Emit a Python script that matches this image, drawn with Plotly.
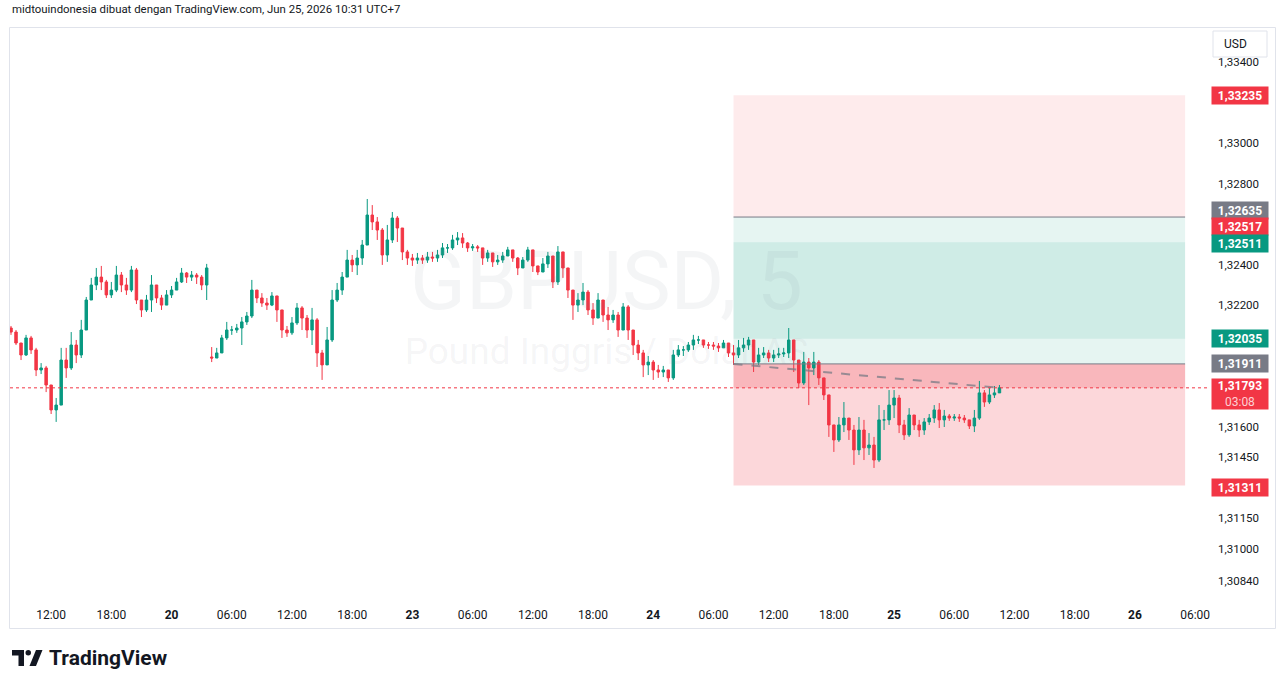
import pandas as pd
import plotly.graph_objects as go

# ---------------- data (30-min bars) ----------------
fri_start = "2026-06-19 08:00"
fri_first_open = 1.32088
fri_close = [1.32068, 1.32014, 1.31955, 1.32039, 1.31980, 1.31881, 1.31891, 1.31807, 1.31684, 1.31708,
             1.31930, 1.31891, 1.32004, 1.31955, 1.32078, 1.32226, 1.32300, 1.32339, 1.32315, 1.32251,
             1.32275, 1.32349, 1.32300, 1.32275, 1.32374, 1.32226, 1.32177, 1.32226, 1.32300, 1.32236,
             1.32201, 1.32251, 1.32275, 1.32315, 1.32359, 1.32339, 1.32349, 1.32339, 1.32300, 1.32384]
fri_high = [1.32098, 1.32078, 1.32014, 1.32054, 1.32049, 1.31990, 1.31915, 1.31901, 1.31807, 1.31743,
            1.31990, 1.31990, 1.32068, 1.32029, 1.32128, 1.32241, 1.32335, 1.32384, 1.32394, 1.32325,
            1.32315, 1.32394, 1.32364, 1.32335, 1.32394, 1.32384, 1.32226, 1.32251, 1.32349, 1.32300,
            1.32251, 1.32275, 1.32295, 1.32335, 1.32384, 1.32364, 1.32369, 1.32359, 1.32349, 1.32404]
fri_low = [1.32054, 1.32004, 1.31930, 1.31950, 1.31960, 1.31851, 1.31861, 1.31772, 1.31664, 1.31625,
           1.31708, 1.31842, 1.31881, 1.31915, 1.31940, 1.32078, 1.32226, 1.32275, 1.32275, 1.32236,
           1.32236, 1.32265, 1.32265, 1.32251, 1.32265, 1.32206, 1.32142, 1.32167, 1.32167, 1.32211,
           1.32177, 1.32216, 1.32236, 1.32275, 1.32310, 1.32310, 1.32320, 1.32305, 1.32275, 1.32226]

mon_start = "2026-06-22 04:00"
mon_first_open = 1.31945
mon_close = [1.31940, 1.31965, 1.32039, 1.32078, 1.32078, 1.32088, 1.32118, 1.32147, 1.32275, 1.32236,
             1.32211, 1.32201, 1.32246, 1.32177, 1.32078, 1.32064, 1.32113, 1.32187, 1.32137, 1.32078,
             1.32128, 1.31965, 1.31906, 1.32029, 1.32226, 1.32275, 1.32339, 1.32423, 1.32399, 1.32433,
             1.32497, 1.32645, 1.32611, 1.32571, 1.32448, 1.32522, 1.32630, 1.32581, 1.32463, 1.32433,
             1.32423, 1.32433, 1.32423, 1.32438, 1.32433, 1.32448, 1.32483, 1.32483, 1.32522, 1.32532,
             1.32507, 1.32483, 1.32488, 1.32483, 1.32433, 1.32458, 1.32414, 1.32423, 1.32443, 1.32473,
             1.32433, 1.32384, 1.32423, 1.32473, 1.32394, 1.32364, 1.32404, 1.32443, 1.32315, 1.32463,
             1.32384, 1.32275, 1.32201, 1.32226, 1.32265, 1.32177, 1.32137, 1.32226, 1.32152, 1.32128,
             1.32152, 1.32078, 1.32192, 1.32078, 1.32004, 1.31965, 1.31906, 1.31920, 1.31881, 1.31871,
             1.31881, 1.31842, 1.31955, 1.31980, 1.31980, 1.32004, 1.32029, 1.32029, 1.32004, 1.32004,
             1.31999, 1.31990, 1.32014, 1.31965, 1.31955, 1.31990, 1.32004, 1.32029, 1.31920, 1.31955,
             1.31965, 1.31940, 1.31955, 1.31960, 1.31965, 1.32029, 1.31930, 1.31817, 1.31920, 1.31891,
             1.31920, 1.31842, 1.31758, 1.31610, 1.31536, 1.31610, 1.31644, 1.31585, 1.31487, 1.31585,
             1.31497, 1.31511, 1.31437, 1.31635, 1.31635, 1.31708, 1.31743, 1.31610, 1.31561, 1.31659,
             1.31610, 1.31585, 1.31625, 1.31644, 1.31684, 1.31635, 1.31654, 1.31644, 1.31649, 1.31644,
             1.31635, 1.31605, 1.31644, 1.31768, 1.31723, 1.31758, 1.31768, 1.31793]
mon_high = [1.31994, 1.31990, 1.32054, 1.32118, 1.32098, 1.32108, 1.32142, 1.32167, 1.32325, 1.32275,
            1.32260, 1.32236, 1.32265, 1.32236, 1.32177, 1.32098, 1.32142, 1.32211, 1.32196, 1.32152,
            1.32187, 1.32137, 1.31980, 1.32093, 1.32275, 1.32310, 1.32364, 1.32473, 1.32448, 1.32473,
            1.32522, 1.32724, 1.32694, 1.32635, 1.32581, 1.32596, 1.32660, 1.32640, 1.32561, 1.32473,
            1.32453, 1.32458, 1.32448, 1.32463, 1.32463, 1.32473, 1.32507, 1.32502, 1.32547, 1.32561,
            1.32556, 1.32512, 1.32502, 1.32497, 1.32483, 1.32473, 1.32448, 1.32448, 1.32463, 1.32488,
            1.32473, 1.32438, 1.32438, 1.32488, 1.32433, 1.32394, 1.32433, 1.32463, 1.32374, 1.32492,
            1.32443, 1.32374, 1.32275, 1.32260, 1.32310, 1.32275, 1.32211, 1.32260, 1.32226, 1.32192,
            1.32177, 1.32167, 1.32211, 1.32201, 1.32078, 1.32029, 1.31980, 1.31950, 1.31930, 1.31906,
            1.31901, 1.31881, 1.31980, 1.32004, 1.31999, 1.32019, 1.32054, 1.32049, 1.32029, 1.32019,
            1.32019, 1.32014, 1.32029, 1.32014, 1.32004, 1.32029, 1.32039, 1.32044, 1.32004, 1.31990,
            1.31994, 1.31980, 1.31980, 1.31990, 1.31990, 1.32088, 1.32029, 1.31915, 1.31970, 1.31940,
            1.31970, 1.31930, 1.31832, 1.31758, 1.31610, 1.31649, 1.31723, 1.31644, 1.31610, 1.31649,
            1.31635, 1.31570, 1.31551, 1.31708, 1.31684, 1.31782, 1.31782, 1.31758, 1.31635, 1.31693,
            1.31659, 1.31635, 1.31644, 1.31664, 1.31708, 1.31718, 1.31684, 1.31664, 1.31664, 1.31664,
            1.31659, 1.31635, 1.31684, 1.31827, 1.31782, 1.31792, 1.31802, 1.31807]
mon_low = [1.31920, 1.31940, 1.31965, 1.32029, 1.32054, 1.32064, 1.32004, 1.32103, 1.32137, 1.32211,
           1.32192, 1.32177, 1.32196, 1.32118, 1.32039, 1.32044, 1.32054, 1.32103, 1.32078, 1.32039,
           1.32004, 1.31896, 1.31832, 1.31906, 1.32019, 1.32216, 1.32251, 1.32349, 1.32364, 1.32349,
           1.32399, 1.32497, 1.32571, 1.32522, 1.32399, 1.32414, 1.32507, 1.32512, 1.32423, 1.32399,
           1.32394, 1.32404, 1.32404, 1.32409, 1.32414, 1.32414, 1.32433, 1.32458, 1.32473, 1.32497,
           1.32483, 1.32463, 1.32468, 1.32463, 1.32399, 1.32414, 1.32389, 1.32399, 1.32409, 1.32443,
           1.32414, 1.32349, 1.32399, 1.32414, 1.32364, 1.32349, 1.32364, 1.32384, 1.32285, 1.32300,
           1.32335, 1.32236, 1.32128, 1.32167, 1.32201, 1.32152, 1.32103, 1.32137, 1.32118, 1.32078,
           1.32113, 1.32044, 1.32078, 1.32029, 1.31955, 1.31930, 1.31846, 1.31856, 1.31832, 1.31842,
           1.31846, 1.31822, 1.31832, 1.31945, 1.31950, 1.31970, 1.31980, 1.32009, 1.31990, 1.31985,
           1.31980, 1.31970, 1.31994, 1.31945, 1.31906, 1.31940, 1.31970, 1.31980, 1.31871, 1.31906,
           1.31940, 1.31920, 1.31920, 1.31940, 1.31945, 1.31940, 1.31871, 1.31792, 1.31807, 1.31708,
           1.31856, 1.31807, 1.31733, 1.31551, 1.31477, 1.31526, 1.31575, 1.31536, 1.31413, 1.31462,
           1.31437, 1.31462, 1.31398, 1.31427, 1.31585, 1.31610, 1.31644, 1.31570, 1.31536, 1.31551,
           1.31585, 1.31551, 1.31561, 1.31610, 1.31620, 1.31595, 1.31600, 1.31630, 1.31630, 1.31625,
           1.31620, 1.31590, 1.31575, 1.31635, 1.31699, 1.31713, 1.31743, 1.31768]

last_price = 1.31793
countdown = "03:08"

# position tools (long and short)
pos_start, pos_end = "2026-06-24 08:00", "2026-06-26 05:00"
long_entry, long_stop, long_target = 1.31911, 1.31311, 1.32511
short_entry, short_stop, short_target = 1.32635, 1.33235, 1.32035
extra_level = 1.32517

# axis ticks
x_tick_times = ["2026-06-19 12:00", "2026-06-19 18:00", "2026-06-20 00:00", "2026-06-22 06:00",
                "2026-06-22 12:00", "2026-06-22 18:00", "2026-06-23 00:00", "2026-06-23 06:00",
                "2026-06-23 12:00", "2026-06-23 18:00", "2026-06-24 00:00", "2026-06-24 06:00",
                "2026-06-24 12:00", "2026-06-24 18:00", "2026-06-25 00:00", "2026-06-25 06:00",
                "2026-06-25 12:00", "2026-06-25 18:00", "2026-06-26 00:00", "2026-06-26 06:00"]
x_tick_text = ["12:00", "18:00", "<b>20</b>", "06:00", "12:00", "18:00", "<b>23</b>", "06:00",
               "12:00", "18:00", "<b>24</b>", "06:00", "12:00", "18:00", "<b>25</b>", "06:00",
               "12:00", "18:00", "<b>26</b>", "06:00"]
y_tick_vals = [1.33400, 1.33000, 1.32800, 1.32400, 1.32200, 1.31600, 1.31450,
               1.31150, 1.31000, 1.30840]

# ---------------- helpers ----------------
BASE = pd.Timestamp("2026-06-19 00:00")
WEEKEND_START = pd.Timestamp("2026-06-20 04:00")
WEEKEND_END = pd.Timestamp("2026-06-22 04:00")
GAP_H = (WEEKEND_END - WEEKEND_START).total_seconds() / 3600


def pos(t):
    t = pd.Timestamp(t)
    hh = (t - BASE).total_seconds() / 3600
    return hh - GAP_H if t >= WEEKEND_END else hh


def fmt(v, d=5):
    return f"{v:.{d}f}".replace(".", ",")


times = list(pd.date_range(fri_start, periods=len(fri_close), freq="30min")) + \
        list(pd.date_range(mon_start, periods=len(mon_close), freq="30min"))
xs = [pos(t) for t in times]


def opens_of(first, closes):
    return [first] + closes[:-1]


o = opens_of(fri_first_open, fri_close) + opens_of(mon_first_open, mon_close)
c = fri_close + mon_close
h = [max(a, b, d) for a, b, d in zip(fri_high + mon_high, o, c)]
l = [min(a, b, d) for a, b, d in zip(fri_low + mon_low, o, c)]

UP, DOWN, GREY = "#089981", "#F23645", "#787B86"
FONT = "Roboto"
W, H = 1281, 688
ML, MR, MT, MB = 10, 74, 28, 88
PW, PH = W - ML - MR, H - MT - MB
Y_RANGE = [1.30747, 1.33567]
X_RANGE = [7.9, 7.9 + PW / 10.035]
PX_PER_UNIT = PH / (Y_RANGE[1] - Y_RANGE[0])


def px_x(px):
    return (px - ML) / PW


def px_y(py):
    return (H - MB - py) / PH


fig = go.Figure()

# watermark (drawn first, below candles)
fig.add_trace(go.Scatter(
    x=[(X_RANGE[0] + X_RANGE[1]) / 2 - 0.2] * 2,
    y=[Y_RANGE[0] + (H - MB - 288) / PX_PER_UNIT, Y_RANGE[0] + (H - MB - 355) / PX_PER_UNIT],
    mode="text", text=["GBPUSD, 5", "Pound Inggris / Dolar AS"],
    textfont=dict(family=FONT, size=[82, 37], color="rgba(120,123,134,0.08)"),
    hoverinfo="skip", showlegend=False))

fig.add_trace(go.Candlestick(
    x=xs, open=o, high=h, low=l, close=c,
    increasing=dict(line=dict(color=UP, width=1), fillcolor=UP),
    decreasing=dict(line=dict(color=DOWN, width=1), fillcolor=DOWN),
    whiskerwidth=0, hoverinfo="skip", showlegend=False))

x0p, x1p = pos(pos_start), pos(pos_end)
shapes = []


def box(y0, y1, color):
    shapes.append(dict(type="rect", xref="x", yref="y", x0=x0p, x1=x1p, y0=y0, y1=y1,
                       fillcolor=color, line=dict(width=0), layer="below"))


box(short_entry, short_stop, "rgba(242,54,69,0.10)")
box(short_target, short_entry, "rgba(8,153,129,0.10)")
box(long_entry, long_target, "rgba(8,153,129,0.10)")
box(long_stop, long_entry, "rgba(242,54,69,0.20)")
box(last_price, long_entry, "rgba(242,54,69,0.20)")
for yv in (short_entry, long_entry):
    shapes.append(dict(type="line", xref="x", yref="y", x0=x0p, x1=x1p, y0=yv, y1=yv,
                       line=dict(color=GREY, width=1)))
# entry -> current price connector
shapes.append(dict(type="line", xref="x", yref="y", x0=x0p, x1=xs[-1], y0=long_entry, y1=last_price,
                   line=dict(color="rgba(120,123,134,0.75)", width=2, dash="dash")))
# current price dotted line
shapes.append(dict(type="line", xref="paper", yref="y", x0=0, x1=1, y0=last_price, y1=last_price,
                   line=dict(color=DOWN, width=1, dash="dot")))
# outer frame
shapes.append(dict(type="rect", xref="paper", yref="paper", x0=px_x(9.5), x1=px_x(1275.5),
                   y0=px_y(628.5), y1=px_y(27.5), line=dict(color="#E0E3EB", width=1)))
# USD button
shapes.append(dict(type="rect", xref="paper", yref="paper", x0=px_x(1213), x1=px_x(1267),
                   y0=px_y(57), y1=px_y(31), line=dict(color="#E0E3EB", width=1),
                   fillcolor="white"))


# TradingView logo mark
def pp(px, py):
    return f"{px_x(px):.5f} {px_y(py):.5f}"


shapes.append(dict(type="path", xref="paper", yref="paper",
                   path=f"M {pp(12,650)} L {pp(24,650)} L {pp(24,666)} L {pp(18.5,666)} "
                        f"L {pp(18.5,655.5)} L {pp(12,655.5)} Z",
                   fillcolor="#131722", line=dict(width=0)))
shapes.append(dict(type="circle", xref="paper", yref="paper", x0=px_x(25.5), x1=px_x(31),
                   y0=px_y(655.5), y1=px_y(650), fillcolor="#131722", line=dict(width=0)))
shapes.append(dict(type="path", xref="paper", yref="paper",
                   path=f"M {pp(36,650)} L {pp(42.5,650)} L {pp(36,666)} L {pp(29.5,666)} Z",
                   fillcolor="#131722", line=dict(width=0)))

annotations = []


def tag(value, bg, shift_px=0, text=None, height=13):
    annotations.append(dict(
        xref="paper", yref="y", x=px_x(1211), xanchor="left",
        y=value + shift_px / PX_PER_UNIT, yanchor="middle",
        text=text or f"<b>{fmt(value)}</b>", showarrow=False,
        font=dict(family=FONT, size=12, color="white"),
        bgcolor=bg, borderpad=2, width=52, height=height, align="center"))


tag(short_stop, DOWN)
tag(short_entry, GREY, shift_px=7)
tag(extra_level, DOWN, shift_px=14)
tag(long_target, UP, shift_px=-1.5)
tag(short_target, UP)
tag(long_entry, GREY)
tag(last_price, DOWN, shift_px=-6, height=26,
    text=f"<b>{fmt(last_price)}</b><br><span style='color:#FDD0D4'>{countdown}</span>")
tag(long_stop, DOWN, shift_px=-1.5)

annotations.append(dict(xref="paper", yref="paper", x=px_x(1222), y=px_y(44), xanchor="left",
                        yanchor="middle", text="USD", showarrow=False,
                        font=dict(family=FONT, size=12, color="#131722")))
annotations.append(dict(xref="paper", yref="paper", x=0, y=px_y(9), xanchor="left", yanchor="middle",
                        text="midtouindonesia dibuat dengan TradingView.com, Jun 25, 2026 10:31 UTC+7",
                        showarrow=False, font=dict(family=FONT, size=11.4, color="#131722")))
annotations.append(dict(xref="paper", yref="paper", x=px_x(47), y=px_y(658), xanchor="left",
                        yanchor="middle", text="<b>TradingView</b>", showarrow=False,
                        font=dict(family=FONT, size=21, color="#131722")))

fig.update_layout(
    width=W, height=H, margin=dict(l=ML, r=MR, t=MT, b=MB),
    paper_bgcolor="white", plot_bgcolor="white", showlegend=False,
    shapes=shapes, annotations=annotations, hovermode=False,
    xaxis=dict(range=X_RANGE, tickvals=[pos(t) for t in x_tick_times], ticktext=x_tick_text,
               showgrid=False, zeroline=False, showline=False, ticks="",
               ticklabelstandoff=6, rangeslider=dict(visible=False),
               tickfont=dict(family=FONT, size=12, color="#131722")),
    yaxis=dict(range=Y_RANGE, side="right", tickvals=y_tick_vals,
               ticktext=[fmt(v) for v in y_tick_vals], showgrid=False, zeroline=False,
               showline=False, ticks="", ticklabelstandoff=10,
               tickfont=dict(family=FONT, size=11.5, color="#131722")),
)

fig.write_html("out.html")
